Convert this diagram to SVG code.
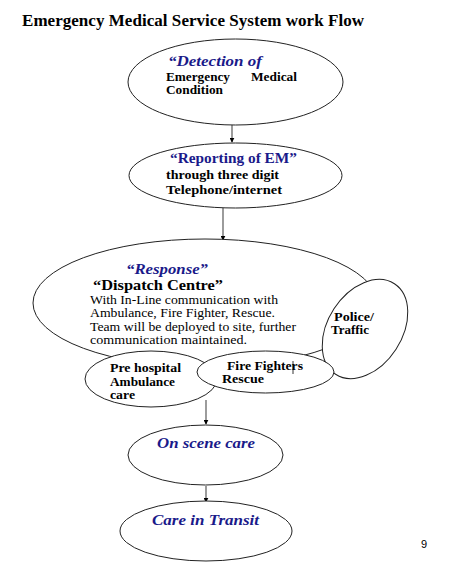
<svg xmlns="http://www.w3.org/2000/svg" width="451" height="576" viewBox="0 0 451 576">
<style>
.node{fill:#fff;stroke:#222;stroke-width:1}
.t{font-family:"Liberation Serif","Times New Roman",serif;fill:#000}
.b{font-weight:bold}
.blue{fill:#1a1a8a;font-weight:bold}
.it{font-style:italic}
.conn{stroke:#666;stroke-width:1.3;fill:none;marker-end:url(#ah)}
</style>
<defs>
<marker id="ah" viewBox="0 0 8 8" refX="7" refY="4" markerWidth="5" markerHeight="5" markerUnits="userSpaceOnUse" orient="auto">
<path d="M0,0 L8,4 L0,8 z" fill="#000"/>
</marker>
</defs>
<rect width="451" height="576" fill="#fff"/>
<text x="22" y="26" font-family="Liberation Serif,serif" font-weight="bold" font-size="17" textLength="342">Emergency Medical Service System work Flow</text>

<g id="connectors">
<line class="conn" x1="232" y1="125" x2="232" y2="142"/>
<line class="conn" x1="223" y1="208" x2="223" y2="240"/>
<line class="conn" x1="206" y1="400" x2="206" y2="424"/>
<line class="conn" x1="206" y1="486" x2="206" y2="502"/>
</g>

<g id="detection">
<ellipse class="node" cx="235.5" cy="82" rx="107.5" ry="43"/>
<text class="t blue it" x="168" y="66" font-size="15" textLength="94" lengthAdjust="spacingAndGlyphs">“Detection of</text>
<text class="t b" x="166" y="81" font-size="12" textLength="64" lengthAdjust="spacingAndGlyphs">Emergency</text>
<text class="t b" x="251" y="81" font-size="12" textLength="46" lengthAdjust="spacingAndGlyphs">Medical</text>
<text class="t b" x="166" y="94" font-size="12" textLength="57" lengthAdjust="spacingAndGlyphs">Condition</text>
</g>

<g id="reporting">
<ellipse class="node" cx="235.5" cy="175.5" rx="106.5" ry="32.5"/>
<text class="t blue" x="170" y="163" font-size="15" textLength="127" lengthAdjust="spacingAndGlyphs">“Reporting of EM”</text>
<text class="t b" x="166" y="179" font-size="12" textLength="113" lengthAdjust="spacingAndGlyphs">through three digit</text>
<text class="t b" x="166" y="194" font-size="12" textLength="116" lengthAdjust="spacingAndGlyphs">Telephone/internet</text>
</g>

<g id="response">
<ellipse class="node" cx="205" cy="303" rx="172" ry="64"/>
<text class="t blue it" x="126" y="274" font-size="15" textLength="82" lengthAdjust="spacingAndGlyphs">“Response”</text>
<text class="t b" x="93" y="290" font-size="15" textLength="130" lengthAdjust="spacingAndGlyphs">“Dispatch Centre”</text>
<text class="t" x="90" y="304" font-size="12" textLength="188" lengthAdjust="spacingAndGlyphs">With In-Line communication with</text>
<text class="t" x="90" y="317" font-size="12" textLength="185" lengthAdjust="spacingAndGlyphs">Ambulance, Fire Fighter, Rescue.</text>
<text class="t" x="90" y="331" font-size="12" textLength="206" lengthAdjust="spacingAndGlyphs">Team will be deployed to site, further</text>
<text class="t" x="90" y="344" font-size="12" textLength="157" lengthAdjust="spacingAndGlyphs">communication maintained.</text>
</g>

<g id="police">
<ellipse class="node" cx="365" cy="329" rx="54" ry="37" transform="rotate(-57 365 329)"/>
<text class="t b" x="334" y="321" font-size="12" textLength="40" lengthAdjust="spacingAndGlyphs">Police/</text>
<text class="t b" x="331" y="334" font-size="12" textLength="38" lengthAdjust="spacingAndGlyphs">Traffic</text>
</g>

<g id="prehospital">
<ellipse class="node" cx="151" cy="379" rx="66" ry="28"/>
<text class="t b" x="110" y="372" font-size="12" textLength="71" lengthAdjust="spacingAndGlyphs">Pre hospital</text>
<text class="t b" x="110" y="386" font-size="12" textLength="65" lengthAdjust="spacingAndGlyphs">Ambulance</text>
<text class="t b" x="110" y="399" font-size="12" textLength="25" lengthAdjust="spacingAndGlyphs">care</text>
</g>

<g id="firefighters">
<ellipse class="node" cx="265.5" cy="372" rx="68.5" ry="21"/>
<text class="t b" x="227" y="370" font-size="12" textLength="76" lengthAdjust="spacingAndGlyphs">Fire Fighters</text>
<text class="t b" x="222" y="383" font-size="12" textLength="42" lengthAdjust="spacingAndGlyphs">Rescue</text>
<line x1="293" y1="361" x2="293" y2="374" stroke="#000" stroke-width="0.8"/>
</g>

<g id="onscene">
<ellipse class="node" cx="205.5" cy="455" rx="77.5" ry="30"/>
<text class="t blue it" x="157" y="448" font-size="14" textLength="98" lengthAdjust="spacingAndGlyphs">On scene care</text>
</g>

<g id="transit">
<ellipse class="node" cx="206" cy="531" rx="86" ry="30"/>
<text class="t blue it" x="152" y="525" font-size="14" textLength="107" lengthAdjust="spacingAndGlyphs">Care in Transit</text>
</g>

<text x="421" y="548" font-family="Liberation Sans,sans-serif" font-size="11" fill="#000">9</text>
</svg>
